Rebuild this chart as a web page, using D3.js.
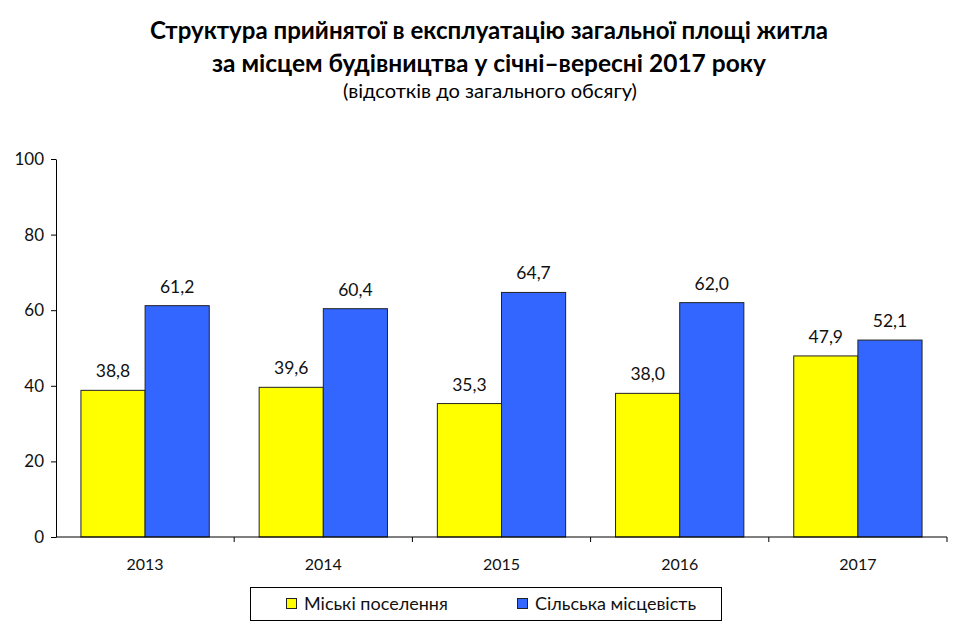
<!DOCTYPE html>
<html><head><meta charset="utf-8">
<script src="https://cdn.jsdelivr.net/npm/d3@7"></script>
<style>body{margin:0;background:#fff;}svg{display:block;font-family:Lato,"Open Sans",sans-serif;}</style>
</head><body>
<svg id="c" width="960" height="642"></svg>
<script>
const categories = ["2013","2014","2015","2016","2017"];
const seriesNames = ["Міські поселення","Сільська місцевість"];
const urban = [38.8, 39.6, 35.3, 38.0, 47.9];
const rural = [61.2, 60.4, 64.7, 62.0, 52.1];
const yTicks = [0,20,40,60,80,100];
const colors = ["#FFFF00","#3366FF"];

const svg = d3.select("#c");
const x0 = 56, x1 = 947, yTop = 159, yBot = 537;
const x = d3.scaleBand().domain(categories).range([x0,x1]).paddingInner(0.28).paddingOuter(0.14);
const xs = d3.scaleBand().domain([0,1]).range([0,x.bandwidth()]);
const y = d3.scaleLinear().domain([0,100]).range([yBot,yTop]);
const fmt = v => v.toFixed(1).replace(".",",");

// Title
const t = svg.append("g").attr("text-anchor","middle").attr("fill","#000");
t.append("text").attr("x",489).attr("y",39).attr("font-size",24).attr("font-weight","bold").attr("textLength",678).attr("lengthAdjust","spacingAndGlyphs").text("Структура прийнятої в експлуатацію загальної площі житла");
t.append("text").attr("x",489).attr("y",72).attr("font-size",24).attr("font-weight","bold").attr("textLength",554).attr("lengthAdjust","spacingAndGlyphs").text("за місцем будівництва у січні–вересні 2017 року");
t.append("text").attr("x",490).attr("y",98).attr("font-size",19).attr("textLength",294).attr("lengthAdjust","spacingAndGlyphs").text("(відсотків до загального обсягу)");

// bars
const data = categories.map((c,i)=>({c, vals:[urban[i], rural[i]]}));
const g = svg.append("g");
data.forEach(d=>{
  d.vals.forEach((v,j)=>{
    const bx = x(d.c)+xs(j);
    g.append("rect").attr("x",bx).attr("y",y(v)).attr("width",xs.bandwidth()).attr("height",yBot-y(v))
      .attr("fill",colors[j]).attr("stroke","#222").attr("stroke-width",1);
    g.append("text").attr("x",bx+xs.bandwidth()/2).attr("y",y(v)-13).attr("text-anchor","middle")
      .attr("font-size",17.5).attr("fill","#111").text(fmt(v));
  });
});

// Y axis
const ya = svg.append("g").attr("transform",`translate(${x0},0)`)
  .call(d3.axisLeft(y).tickValues(yTicks).tickSize(5).tickSizeOuter(0));
ya.select(".domain").attr("stroke","#000");
ya.selectAll("text").attr("font-size",17).attr("fill","#111").attr("font-family","Lato,sans-serif").attr("dx","-4");

// X axis
const xa = svg.append("g").attr("transform",`translate(0,${yBot})`);
xa.append("line").attr("x1",x0).attr("x2",x1).attr("y1",0).attr("y2",0).attr("stroke","#000");
categories.forEach((c,i)=>{
  const bx = x0 + (x1-x0)/categories.length*(i+1);
  xa.append("line").attr("x1",bx).attr("x2",bx).attr("y1",0).attr("y2",5).attr("stroke","#000");
  xa.append("text").attr("x",x(c)+x.bandwidth()/2).attr("y",33).attr("text-anchor","middle")
    .attr("font-size",16).attr("fill","#111").text(c);
});

// Legend
const lg = svg.append("g");
lg.append("rect").attr("x",250.5).attr("y",587.5).attr("width",471).attr("height",33).attr("fill","#fff").attr("stroke","#000");
const lx = [286, 517];
seriesNames.forEach((n,j)=>{
  lg.append("rect").attr("x",lx[j]+0.5).attr("y",598.5).attr("width",10).attr("height",10).attr("fill",colors[j]).attr("stroke","#222");
  lg.append("text").attr("x",lx[j]+18).attr("y",610).attr("font-size",18).attr("fill","#111").text(n);
});
</script>
</body></html>
